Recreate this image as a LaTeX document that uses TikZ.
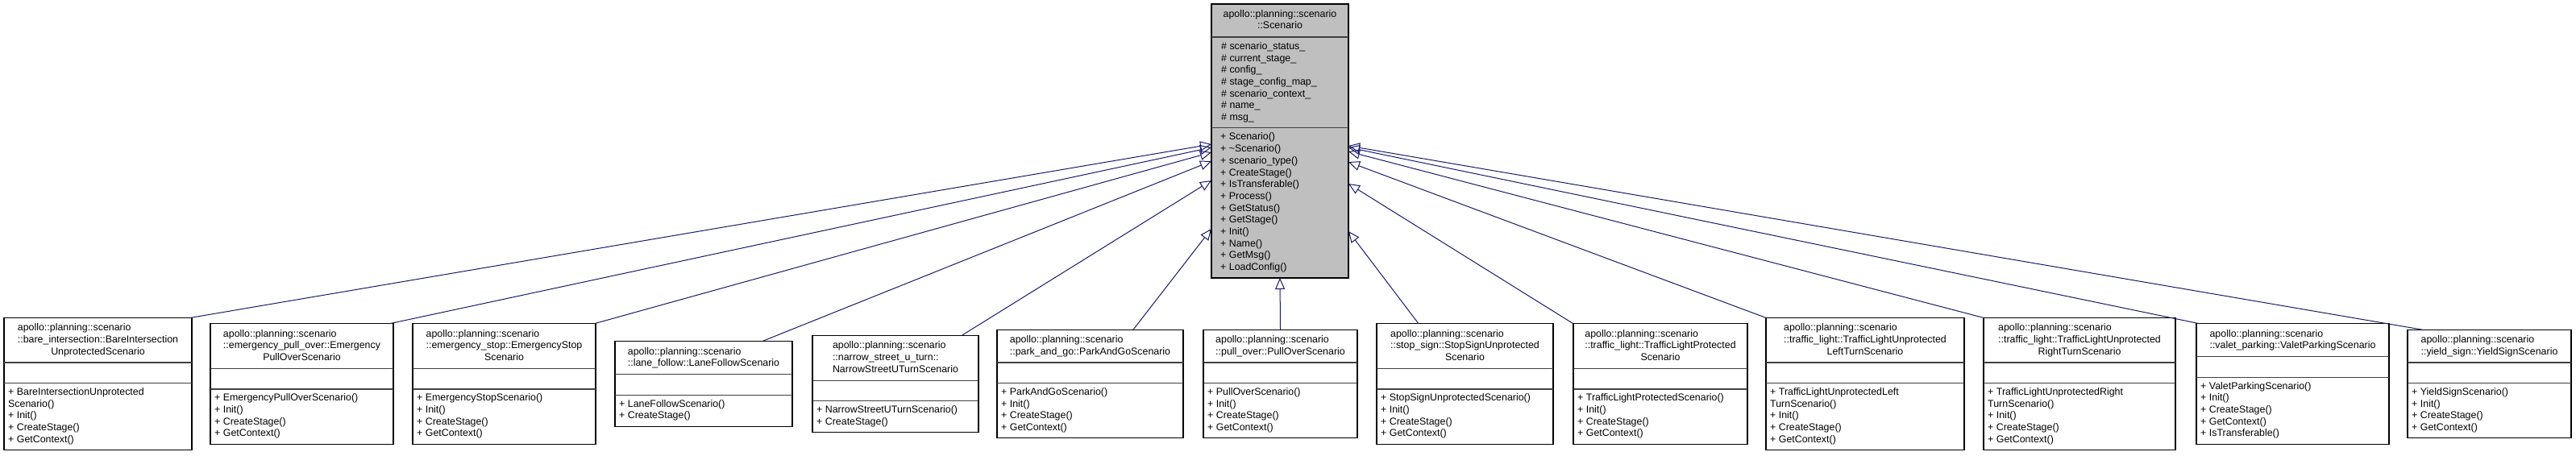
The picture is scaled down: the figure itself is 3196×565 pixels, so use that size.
\documentclass[tikz,border=0pt]{standalone}
\usepackage{fontspec}
\setmainfont{Liberation Sans}
\usetikzlibrary{arrows.meta}

\definecolor{edgeblue}{HTML}{191970}
\definecolor{basegray}{HTML}{BFBFBF}
\definecolor{sepgray}{HTML}{404040}

\newcommand{\centred}[1]{\multicolumn{1}{@{}c@{}}{#1}}

% one class box of the lower row: name, left, right, title lines, method lines, title, methods
\newcommand{\umlclass}[7]{%
  \pgfmathsetmacro{\wB}{#3-#2}
  \pgfmathsetmacro{\hT}{#4*14.7+11.5}
  \pgfmathsetmacro{\hB}{\hT+25.5+#5*14.7+9.5}
  \node[classbox, minimum width={\wB*1pt}, minimum height={\hB*1pt}] (#1) at ({(#2+#3)/2},476.5) {};
  \draw[sepline] ([yshift=-\hT*1pt]#1.north west) -- ([yshift=-\hT*1pt]#1.north east);
  \draw[sepline] ([yshift=-\hT*1pt-25.5pt]#1.north west) -- ([yshift=-\hT*1pt-25.5pt]#1.north east);
  \node[txt, anchor=north] (#1-title) at ([yshift=-5.75pt]#1.north) {\begin{tabular}{@{}l@{}}#6\end{tabular}};
  \node[txt, anchor=south west] (#1-ops) at ([shift={(5pt,4.75pt)}]#1.south west) {\begin{tabular}{@{}l@{}}#7\end{tabular}};
}

\begin{document}
\begin{tikzpicture}[x=1pt,y=-1pt,
    classbox/.style={draw=black, line width=1.2pt, fill=white, inner sep=0pt, outer sep=0pt},
    sepline/.style={draw=sepgray, line width=1.2pt},
    txt/.style={inner sep=0pt, font=\fontsize{12.4}{14.7}\selectfont},
    inherit/.style={draw=edgeblue, line width=1pt, -{Triangle[open, length=14pt, width=12pt]}}]
  \useasboundingbox (0,0) rectangle (3196,565);

  % base class
  \node[classbox, fill=basegray, minimum width=170pt, minimum height=340pt] (scen) at (1588,175) {};
  \draw[sepline] ([yshift=-40.9pt]scen.north west) -- ([yshift=-40.9pt]scen.north east);
  \draw[sepline] ([yshift=-153.8pt]scen.north west) -- ([yshift=-153.8pt]scen.north east);
  \node[txt, anchor=north] (scen-title) at ([yshift=-5.75pt]scen.north) {\begin{tabular}{@{}l@{}}apollo::planning::scenario\\\centred{::Scenario}\end{tabular}};
  \node[txt, anchor=north west] (scen-attr) at ([shift={(12pt,-45.9pt)}]scen.north west) {\begin{tabular}{@{}l@{}}\# scenario\_status\_\\\# current\_stage\_\\\# config\_\\\# stage\_config\_map\_\\\# scenario\_context\_\\\# name\_\\\# msg\_\end{tabular}};
  \node[txt, anchor=south west] (scen-ops) at ([shift={(11pt,4.75pt)}]scen.south west) {\begin{tabular}{@{}l@{}}+ Scenario()\\+ \textasciitilde Scenario()\\+ scenario\_type()\\+ CreateStage()\\+ IsTransferable()\\+ Process()\\+ GetStatus()\\+ GetStage()\\+ Init()\\+ Name()\\+ GetMsg()\\+ LoadConfig()\end{tabular}};

  % derived classes
  \umlclass{bare}{5}{238}{3}{5}{apollo::planning::scenario\\::bare\_intersection::BareIntersection\\\centred{UnprotectedScenario}}{+ BareIntersectionUnprotected\\Scenario()\\+ Init()\\+ CreateStage()\\+ GetContext()}
  \umlclass{epo}{261}{488}{3}{4}{apollo::planning::scenario\\::emergency\_pull\_over::Emergency\\\centred{PullOverScenario}}{+ EmergencyPullOverScenario()\\+ Init()\\+ CreateStage()\\+ GetContext()}
  \umlclass{estop}{512}{739}{3}{4}{apollo::planning::scenario\\::emergency\_stop::EmergencyStop\\\centred{Scenario}}{+ EmergencyStopScenario()\\+ Init()\\+ CreateStage()\\+ GetContext()}
  \umlclass{lane}{763}{983}{2}{2}{apollo::planning::scenario\\\centred{::lane\_follow::LaneFollowScenario}}{+ LaneFollowScenario()\\+ CreateStage()}
  \umlclass{narrow}{1008}{1214}{3}{2}{apollo::planning::scenario\\::narrow\_street\_u\_turn::\\\centred{NarrowStreetUTurnScenario}}{+ NarrowStreetUTurnScenario()\\+ CreateStage()}
  \umlclass{park}{1237}{1468}{2}{4}{apollo::planning::scenario\\\centred{::park\_and\_go::ParkAndGoScenario}}{+ ParkAndGoScenario()\\+ Init()\\+ CreateStage()\\+ GetContext()}
  \umlclass{pull}{1493}{1684}{2}{4}{apollo::planning::scenario\\\centred{::pull\_over::PullOverScenario}}{+ PullOverScenario()\\+ Init()\\+ CreateStage()\\+ GetContext()}
  \umlclass{stop}{1708}{1927}{3}{4}{apollo::planning::scenario\\::stop\_sign::StopSignUnprotected\\\centred{Scenario}}{+ StopSignUnprotectedScenario()\\+ Init()\\+ CreateStage()\\+ GetContext()}
  \umlclass{tlp}{1952}{2168}{3}{4}{apollo::planning::scenario\\::traffic\_light::TrafficLightProtected\\\centred{Scenario}}{+ TrafficLightProtectedScenario()\\+ Init()\\+ CreateStage()\\+ GetContext()}
  \umlclass{tll}{2191}{2437}{3}{5}{apollo::planning::scenario\\::traffic\_light::TrafficLightUnprotected\\\centred{LeftTurnScenario}}{+ TrafficLightUnprotectedLeft\\TurnScenario()\\+ Init()\\+ CreateStage()\\+ GetContext()}
  \umlclass{tlr}{2461}{2699}{3}{5}{apollo::planning::scenario\\::traffic\_light::TrafficLightUnprotected\\\centred{RightTurnScenario}}{+ TrafficLightUnprotectedRight\\TurnScenario()\\+ Init()\\+ CreateStage()\\+ GetContext()}
  \umlclass{valet}{2725}{2964}{2}{5}{apollo::planning::scenario\\\centred{::valet\_parking::ValetParkingScenario}}{+ ValetParkingScenario()\\+ Init()\\+ CreateStage()\\+ GetContext()\\+ IsTransferable()}
  \umlclass{yield}{2987}{3190}{2}{4}{apollo::planning::scenario\\\centred{::yield\_sign::YieldSignScenario}}{+ YieldSignScenario()\\+ Init()\\+ CreateStage()\\+ GetContext()}

  % where the edges meet the base class
  \coordinate (inA) at (1503,179);
  \coordinate (inB) at (1503,183);
  \coordinate (inC) at (1503,189);
  \coordinate (inD) at (1503,200);
  \coordinate (inE) at (1503,224);
  \coordinate (inF) at (1503,284);
  \coordinate (inG) at (1673,287);
  \coordinate (inH) at (1673,228);
  \coordinate (inI) at (1673,201);
  \coordinate (inJ) at (1673,188);
  \coordinate (inK) at (1673,183);
  \coordinate (inL) at (1673,181);

  \draw[inherit] ([xshift=-2pt]bare.north east) -- (inA);
  \draw[inherit] ([xshift=-5pt]epo.north east) -- (inB);
  \draw[inherit] ([xshift=-2pt]estop.north east) -- (inC);
  \draw[inherit] ([xshift=-38pt]lane.north east) -- (inD);
  \draw[inherit] ([xshift=-21pt]narrow.north east) -- (inE);
  \draw[inherit] ([xshift=-62pt]park.north east) -- (inF);
  \draw[inherit] (pull.north) -- (scen.south);
  \draw[inherit] ([xshift=52pt]stop.north west) -- (inG);
  \draw[inherit] (tlp.north west) -- (inH);
  \draw[inherit] (tll.north west) -- (inI);
  \draw[inherit] (tlr.north west) -- (inJ);
  \draw[inherit] ([xshift=4pt]valet.north west) -- (inK);
  \draw[inherit] ([xshift=18pt]yield.north west) -- (inL);
\end{tikzpicture}
\end{document}
